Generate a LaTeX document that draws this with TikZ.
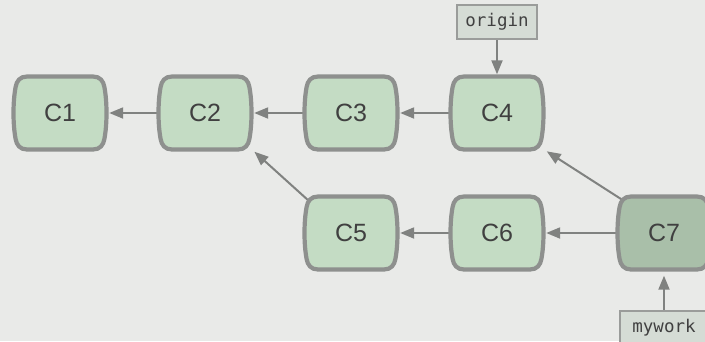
\documentclass[tikz,border=0pt]{standalone}
\usepackage{fontspec}
\setmainfont{Liberation Sans}
\newfontfamily\monofont{DejaVu Sans Mono}
\usetikzlibrary{arrows.meta}
\pgfdeclarelayer{bglayer}
\pgfdeclarelayer{linklayer}
\pgfsetlayers{bglayer,linklayer,main}
\definecolor{bgc}{HTML}{E9EAE8}
\definecolor{cfill}{HTML}{C4DCC4}
\definecolor{cdark}{HTML}{A9BFA9}
\definecolor{cline}{HTML}{8E908E}
\definecolor{lfill}{HTML}{D5DCD5}
\definecolor{lline}{HTML}{9A9C9A}
\definecolor{arr}{HTML}{808280}
\definecolor{txt}{HTML}{404040}
\tikzset{
  commitline/.style={draw=cline, line width=4.2pt},
  commit/.style={draw=none, minimum width=94pt, minimum height=73pt, inner sep=0pt,
    font=\fontsize{25}{25}\selectfont, text=txt},
  refbox/.style={draw=lline, fill=lfill, line width=1.5pt, minimum height=34pt,
    inner sep=0pt, font=\monofont\fontsize{17.5}{17.5}\selectfont, text=txt},
  link/.style={draw=arr, line width=2pt, -{Triangle[length=14pt,width=11pt]}},
}
\newcommand\cnode[5]{% name, x, y, label, fill
  \begin{scope}[shift={(#2,#3)}]
    \path[commitline, fill=#5] (-33,36.5) -- (33,36.5)
      .. controls (40,36.5) and (43.4,32) .. (44.4,26)
      .. controls (47.2,11) and (47.2,-11) .. (44.4,-26)
      .. controls (43.4,-32) and (40,-36.5) .. (33,-36.5)
      -- (-33,-36.5)
      .. controls (-40,-36.5) and (-43.4,-32) .. (-44.4,-26)
      .. controls (-47.2,-11) and (-47.2,11) .. (-44.4,26)
      .. controls (-43.4,32) and (-40,36.5) .. (-33,36.5) -- cycle;
  \end{scope}
  \node[commit] (#1) at (#2,#3) {#4};
}
\begin{document}
\begin{tikzpicture}[x=1pt,y=-1pt]
  \clip (0,0) rectangle (705,341);
  \begin{pgfonlayer}{bglayer}
    \fill[bgc] (0,0) rectangle (705,341);
  \end{pgfonlayer}
  \cnode{c1}{60}{113}{C1}{cfill}
  \cnode{c2}{205}{113}{C2}{cfill}
  \cnode{c3}{351}{113}{C3}{cfill}
  \cnode{c4}{497}{113}{C4}{cfill}
  \cnode{c5}{351}{233}{C5}{cfill}
  \cnode{c6}{497}{233}{C6}{cfill}
  \cnode{c7}{664}{233}{C7}{cdark}
  \node[refbox, minimum width=80pt] (origin) at (497,22) {origin};
  \node[refbox, minimum width=88pt] (mywork) at (664,328) {mywork};
  \begin{pgfonlayer}{linklayer}
    \draw[link, shorten >=2pt] (c2.west) -- (c1.east);
    \draw[link, shorten >=2pt] (c3.west) -- (c2.east);
    \draw[link, shorten >=2pt] (c4.west) -- (c3.east);
    \draw[link, shorten >=2pt] (c6.west) -- (c5.east);
    \draw[link, shorten >=2pt] (c7.west) -- (c6.east);
    \draw[link, shorten >=2pt] (origin.south) -- (c4.north);
    \draw[link, shorten >=6pt] (mywork.north) -- (c7.south);
    \draw[link, shorten <=-10pt, shorten >=3pt] (c5.north west) -- (c2.south east);
    \draw[link, shorten <=-10pt, shorten >=3pt] (c7.north west) -- (c4.south east);
  \end{pgfonlayer}
\end{tikzpicture}
\end{document}
